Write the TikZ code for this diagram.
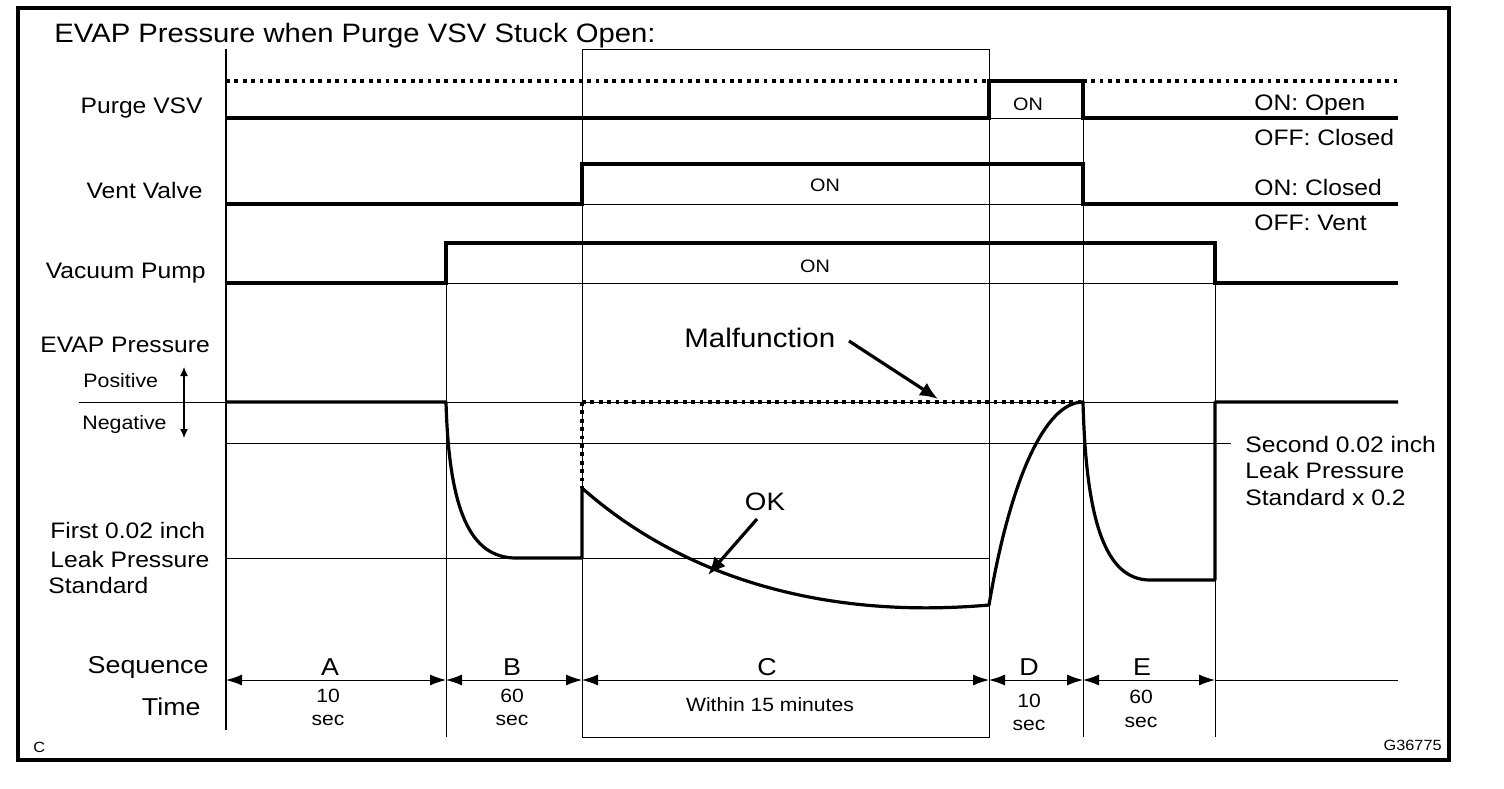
\documentclass[tikz,border=0pt]{standalone}
\usepackage{fontspec}
\setmainfont{Liberation Sans}[FakeStretch=1.1]
\usetikzlibrary{arrows.meta}
\begin{document}
\begin{tikzpicture}[x=0.5pt,y=-0.5pt,
  thinln/.style={line width=0.5pt},
  sig/.style={line width=1.7pt},
  dotln/.style={line width=1.8pt,dash pattern=on 1.9pt off 2.3pt},
  txt/.style={inner sep=0pt,font=\fontsize{11.2}{13}\selectfont},
  smalltxt/.style={inner sep=0pt,font=\fontsize{9.6}{11}\selectfont},
  ontxt/.style={inner sep=0pt,font=\fontsize{9}{10}\selectfont},
  bigtxt/.style={inner sep=0pt,font=\fontsize{12.2}{14}\selectfont},
  seqarr/.style={line width=0.5pt,{Latex[length=8pt,width=5.5pt]}-{Latex[length=8pt,width=5.5pt]}},
  callout/.style={line width=1.6pt,-{Latex[length=9pt,width=7.5pt]}}]
\useasboundingbox (0,0) rectangle (1504,788);
% frame
\draw[line width=2pt] (18,8) rectangle (1449,760);
% title
\node[inner sep=0pt,font=\fontsize{13.3}{15}\selectfont,anchor=base west] (title) at (54,42) {EVAP Pressure when Purge VSV Stuck Open:};
% vertical guide lines
\draw[line width=0.6pt] (226,49) -- (226,730);
\draw[thinln] (446,243) -- (446,737);
\draw[thinln] (582,49) rectangle (989,737);
\draw[thinln] (1083,81) -- (1083,737);
\draw[thinln] (1215,243) -- (1215,737);
% horizontal thin lines
\draw[thinln] (989,118) -- (1083,118);
\draw[thinln] (582,204) -- (1083,204);
\draw[thinln] (446,283) -- (1215,283);
\draw[thinln] (79,402) -- (1398,402);
\draw[thinln] (226,443) -- (1231,443);
\draw[thinln] (226,558) -- (989,558);
% Purge VSV
\draw[dotln] (226,81) -- (1398,81);
\draw[sig] (226,118) -- (989,118) -- (989,81) -- (1083,81) -- (1083,118) -- (1398,118);
% Vent valve
\draw[sig] (226,204) -- (582,204) -- (582,164) -- (1083,164) -- (1083,204) -- (1398,204);
% Vacuum pump
\draw[sig] (226,283) -- (446,283) -- (446,243) -- (1215,243) -- (1215,283) -- (1398,283);
% EVAP pressure malfunction (dotted)
\draw[dotln] (582,402) -- (1083,402);
\draw[dotln] (582,402) -- (582,488);
% EVAP pressure curve
\draw[line width=1.6pt,line join=round]
  (226,402) -- (446,402)
  .. controls (449,510) and (470,558) .. (516,558)
  -- (582,558) -- (582,488)
  .. controls (680,575) and (820,620) .. (989,605)
  .. controls (1010,480) and (1045,402) .. (1083,402)
  .. controls (1086,520) and (1105,580) .. (1150,580)
  -- (1215,580) -- (1215,402) -- (1398,402);
% positive/negative arrow
\draw[line width=0.6pt,{Latex[length=4.5pt,width=4pt]}-{Latex[length=4.5pt,width=4pt]}] (184,367) -- (184,438);
% labels left
\node[txt,anchor=base east] (lpurge) at (203,113) {Purge VSV};
\node[txt,anchor=base east] (lvent) at (203,198) {Vent Valve};
\node[txt,anchor=base east] (lpump) at (206,278) {Vacuum Pump};
\node[txt,anchor=base west] (levap) at (40,352) {EVAP Pressure};
\node[inner sep=0pt,font=\fontsize{9.7}{11}\selectfont,anchor=base west] (lpos) at (83,387) {Positive};
\node[inner sep=0pt,font=\fontsize{9.7}{11}\selectfont,anchor=base west] (lneg) at (82,429) {Negative};
\node[txt,anchor=base west] (lf1) at (50,538) {First 0.02 inch};
\node[txt,anchor=base west] (lf2) at (50,567) {Leak Pressure};
\node[txt,anchor=base west] (lf3) at (48,593) {Standard};
% labels right
\node[txt,anchor=base west] (r1) at (1254,110) {ON: Open};
\node[txt,anchor=base west] (r2) at (1254,145) {OFF: Closed};
\node[txt,anchor=base west] (r3) at (1254,195) {ON: Closed};
\node[txt,anchor=base west] (r4) at (1254,230) {OFF: Vent};
\node[txt,anchor=base west] (s1) at (1245,452) {Second 0.02 inch};
\node[txt,anchor=base west] (s2) at (1245,478) {Leak Pressure};
\node[txt,anchor=base west] (s3) at (1245,505) {Standard x 0.2};
% ON labels
\node[ontxt,anchor=base] (on1) at (1028,110) {ON};
\node[ontxt,anchor=base] (on2) at (825,191) {ON};
\node[ontxt,anchor=base] (on3) at (815,272) {ON};
% callouts
\node[inner sep=0pt,font=\fontsize{13.4}{15}\selectfont,anchor=base west] (malf) at (684,347) {Malfunction};
\coordinate (malftip) at (938,399);
\draw[callout] (849,341) -- (malftip);
\node[inner sep=0pt,font=\fontsize{12.6}{14}\selectfont,anchor=base] (ok) at (765,510) {OK};
\coordinate (oktip) at (708,575);
\draw[callout] (757,519) -- (oktip);
% sequence
\node[bigtxt,anchor=base east] (lseq) at (209,673) {Sequence};
\node[bigtxt,anchor=base east] (ltime) at (201,715) {Time};
\draw[seqarr] (226,680) -- (446,680);
\draw[seqarr] (446,680) -- (582,680);
\draw[seqarr] (582,680) -- (989,680);
\draw[seqarr] (989,680) -- (1083,680);
\draw[seqarr] (1083,680) -- (1215,680);
\draw[thinln] (1215,680) -- (1398,680);
\node[bigtxt,anchor=base] (sa) at (330,675) {A};
\node[bigtxt,anchor=base] (sb) at (512,675) {B};
\node[bigtxt,anchor=base] (sc) at (767,675) {C};
\node[bigtxt,anchor=base] (sd) at (1029,675) {D};
\node[bigtxt,anchor=base] (se) at (1142,675) {E};
\node[smalltxt,anchor=base] (ta1) at (328,702) {10};
\node[smalltxt,anchor=base] (ta2) at (328,725) {sec};
\node[smalltxt,anchor=base] (tb1) at (512,702) {60};
\node[smalltxt,anchor=base] (tb2) at (512,725) {sec};
\node[smalltxt,anchor=base] (tc) at (770,711) {Within 15 minutes};
\node[smalltxt,anchor=base] (td1) at (1029,707) {10};
\node[smalltxt,anchor=base] (td2) at (1029,730) {sec};
\node[smalltxt,anchor=base] (te1) at (1141,703) {60};
\node[smalltxt,anchor=base] (te2) at (1141,727) {sec};
% corner marks
\node[inner sep=0pt,font=\fontsize{7.4}{9}\selectfont,anchor=base west] (cc) at (33,752) {C};
\node[inner sep=0pt,font=\fontsize{7.4}{9}\selectfont,anchor=base east] (gid) at (1442,750) {G36775};
\end{tikzpicture}
\end{document}
